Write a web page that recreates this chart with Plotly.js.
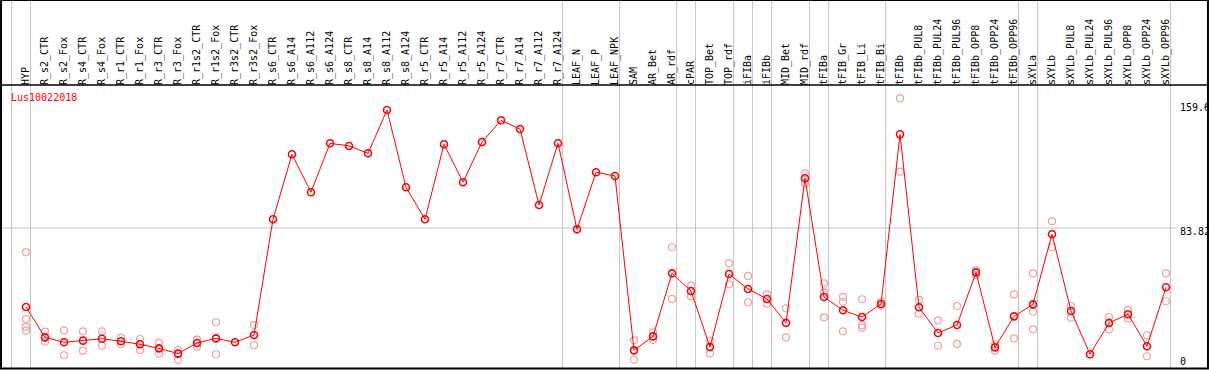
<!DOCTYPE html>
<html>
<head>
<meta charset="utf-8">
<script src="https://cdn.plot.ly/plotly-3.0.1.min.js"></script>
<style>html,body{margin:0;padding:0;background:#fff;}#chart{width:1209px;height:370px;}</style>
</head>
<body>
<div id="chart"></div>
<script>
const categories = ["HYP","R_s2_CTR","R_s2_Fox","R_s4_CTR","R_s4_Fox","R_r1_CTR","R_r1_Fox","R_r3_CTR","R_r3_Fox","R_r1s2_CTR","R_r1s2_Fox","R_r3s2_CTR","R_r3s2_Fox","R_s6_CTR","R_s6_A14","R_s6_A112","R_s6_A124","R_s8_CTR","R_s8_A14","R_s8_A112","R_s8_A124","R_r5_CTR","R_r5_A14","R_r5_A112","R_r5_A124","R_r7_CTR","R_r7_A14","R_r7_A112","R_r7_A124","LEAF_N","LEAF_P","LEAF_NPK","SAM","AR_Bet","AR_rdf","cPAR","TOP_Bet","TOP_rdf","iFIBa","iFIBb","MID_Bet","MID_rdf","tFIBa","tFIB_Gr","tFIB_Li","tFIB_Bi","tFIBb","tFIBb_PUL8","tFIBb_PUL24","tFIBb_PUL96","tFIBb_OPP8","tFIBb_OPP24","tFIBb_OPP96","sXYLa","sXYLb","sXYLb_PUL8","sXYLb_PUL24","sXYLb_PUL96","sXYLb_OPP8","sXYLb_OPP24","sXYLb_OPP96"];

const meanValues = [35.7,17.2,14.2,15.2,16.4,14.8,13.0,10.5,7.3,13.8,16.6,14.2,18.6,89.1,128.7,105.6,135.4,133.8,129.3,155.7,108.6,89.1,134.8,111.7,136.2,149.4,144.1,97.8,135.4,83.0,117.8,115.5,9.3,17.8,56.2,45.4,11.3,55.8,46.7,40.6,26.0,114.1,41.8,33.7,29.6,37.5,140.9,35.5,19.9,24.7,56.8,11.1,30.0,37.3,80.0,33.3,6.9,26.0,31.3,11.8,47.7];

const rep1 = [69.0,20.7,21.5,20.9,20.9,17.0,16.2,13.8,9.5,15.8,26.4,null,24.7,null,null,null,null,null,null,null,null,null,null,null,null,null,null,null,null,null,null,null,15.4,20.3,72.1,48.7,15.0,62.3,54.6,43.4,34.9,117.1,50.1,41.8,40.4,38.9,162.8,40.0,27.6,36.3,58.2,12.7,43.4,56.2,87.9,36.3,null,29.6,33.9,18.5,56.2];
const rep2 = [28.4,14.6,6.3,9.1,12.1,13.0,9.5,7.3,3.4,11.5,6.9,null,12.4,null,null,null,null,null,null,null,null,null,null,null,null,null,null,null,null,null,null,null,9.0,15.6,40.6,42.2,7.5,49.5,38.6,37.7,17.2,111.1,44.6,38.9,24.7,36.5,118.1,31.6,12.1,13.2,55.2,9.1,16.6,32.8,72.1,29.2,null,22.1,28.6,5.7,39.2];
const rep3 = [23.7,null,null,null,null,null,null,null,null,null,null,null,null,null,null,null,null,null,null,null,null,null,null,null,null,null,null,null,null,null,null,null,3.6,null,null,null,null,null,null,null,null,null,29.4,20.9,23.1,null,null,null,null,null,null,null,null,22.1,null,null,null,null,null,null,null];
const rep4 = [21.3];

const yTickValues = [0, 83.82, 159.6];
const yTickLabels = ["0", "83.82", "159.6"];
const geneName = "Lus10022018";
const groupStart = "HYP";
const groupEnds = ["HYP","R_r7_A124","LEAF_NPK","AR_rdf","cPAR","TOP_rdf","iFIBa","iFIBb","MID_rdf","tFIBa","tFIB_Bi","tFIBb_OPP96","sXYLa","sXYLb_OPP96"];

const repX = [], repY = [];
[rep1, rep2, rep3, rep4].forEach(r => {
  r.forEach((v, i) => { if (v !== null && v !== undefined) { repX.push(categories[i]); repY.push(v); } });
});

const mono = "DejaVu Sans Mono, monospace";
const traces = [
  {x: categories, y: meanValues, type: "scatter", mode: "none", hoverinfo: "skip", showlegend: false},
  {x: repX, y: repY, type: "scatter", mode: "markers", hoverinfo: "skip",
   marker: {symbol: "circle-open", size: 7, color: "#f0a0a0", line: {width: 1.2, color: "#f0a0a0"}}, showlegend: false},
  {x: categories, y: meanValues, type: "scatter", mode: "lines+markers",
   line: {color: "#ff0000", width: 1},
   marker: {symbol: "circle-open", size: 7, color: "#ff0000", line: {width: 1.6, color: "#ff0000"}}, showlegend: false}
];

const topPaper = 1 + 86/282;
const shapes = [];
const startIdx = categories.indexOf(groupStart) - 1;
[startIdx].concat(groupEnds.map(c => categories.indexOf(c))).forEach(i => {
  shapes.push({type: "line", xref: "x", yref: "paper", x0: i + 0.24, x1: i + 0.24, y0: 0, y1: topPaper,
    line: {color: "#c4c4c4", width: 1}, layer: "below"});
});
shapes.push({type: "line", xref: "paper", yref: "y", x0: 0, x1: 0.975, y0: yTickValues[1], y1: yTickValues[1],
  line: {color: "#c4c4c4", width: 1}, layer: "below"});
shapes.push({type: "line", xref: "paper", yref: "paper", x0: -0.001, x1: 1.001, y0: 1.0035, y1: 1.0035,
  line: {color: "#000", width: 1.5}});
shapes.push({type: "rect", xref: "paper", yref: "paper", x0: -0.0008, x1: 1.0008, y0: -0.002, y1: topPaper,
  line: {color: "#000", width: 2}, fillcolor: "rgba(0,0,0,0)"});

const annotations = [
  {text: geneName, xref: "paper", yref: "paper", x: 7/1205, y: (368-97)/282, xanchor: "left", yanchor: "middle",
   showarrow: false, font: {family: mono, size: 10, color: "#ff0000"}}
];
yTickValues.forEach((v, k) => {
  annotations.push({text: yTickLabels[k], xref: "paper", yref: "y", x: 1176/1205, y: v, xanchor: "left", yanchor: "middle",
    yshift: v === 0 ? 4 : -4, showarrow: false, font: {family: mono, size: 10, color: "#000"}});
});

const layout = {
  width: 1209, height: 370,
  margin: {l: 2, r: 2, t: 86, b: 2, pad: 0},
  paper_bgcolor: "#fff", plot_bgcolor: "#fff",
  showlegend: false,
  xaxis: {type: "category", categoryorder: "array", categoryarray: categories, side: "top", range: [-1.263, 62.158], tickangle: -90,
    tickfont: {family: mono, size: 10, color: "#000"}, showgrid: false, zeroline: false, showline: false,
    ticks: "", fixedrange: true, automargin: false},
  yaxis: {range: [-1.46, 170.3], showticklabels: false, showgrid: false, zeroline: false, showline: false,
    ticks: "", fixedrange: true},
  shapes: shapes,
  annotations: annotations
};

Plotly.newPlot("chart", traces, layout, {displayModeBar: false, staticPlot: true});
</script>
</body>
</html>
